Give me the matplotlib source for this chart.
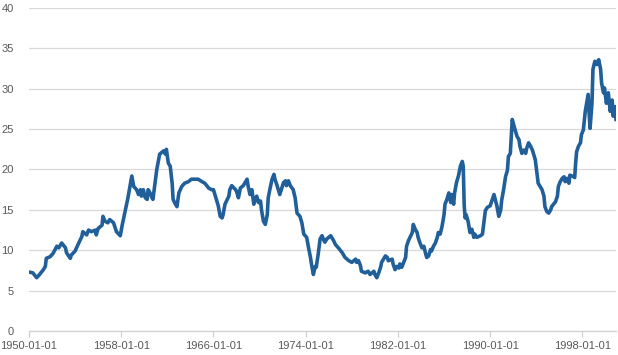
import matplotlib
matplotlib.use("Agg")
import matplotlib.pyplot as plt

# monthly P/E readings
dates = [
    "1950-01", "1950-05", "1950-09", "1950-12", "1951-04", "1951-06", "1951-07", "1951-11",
    "1952-02", "1952-06", "1952-08", "1952-11", "1953-03", "1953-04", "1953-08", "1953-09",
    "1954-01", "1954-04", "1954-08", "1954-09", "1954-11", "1955-01", "1955-03", "1955-06",
    "1955-10", "1955-11", "1956-01", "1956-05", "1956-06", "1956-08", "1956-11", "1957-01",
    "1957-05", "1957-08", "1957-12", "1958-02", "1958-05", "1958-08", "1958-12", "1959-02",
    "1959-05", "1959-07", "1959-09", "1959-10", "1959-12", "1960-02", "1960-04", "1960-05",
    "1960-07", "1960-09", "1960-10", "1960-12", "1961-02", "1961-04", "1961-05", "1961-09",
    "1961-11", "1961-12", "1962-02", "1962-04", "1962-06", "1962-07", "1962-09", "1962-11",
    "1963-01", "1963-04", "1963-07", "1963-11", "1964-02", "1964-06", "1964-09", "1965-01",
    "1965-04", "1965-08", "1965-11", "1966-01", "1966-03", "1966-06", "1966-08", "1966-10",
    "1966-11", "1967-01", "1967-05", "1967-06", "1967-08", "1967-12", "1968-01", "1968-03",
    "1968-05", "1968-08", "1968-12", "1969-01", "1969-03", "1969-05", "1969-07", "1969-10",
    "1969-12", "1970-02", "1970-03", "1970-05", "1970-07", "1970-09", "1970-10", "1970-12",
    "1971-02", "1971-04", "1971-05", "1971-07", "1971-10", "1972-02", "1972-04", "1972-05",
    "1972-07", "1972-09", "1972-12", "1973-02", "1973-04", "1973-07", "1973-09", "1973-11",
    "1974-02", "1974-04", "1974-06", "1974-07", "1974-09", "1974-11", "1974-12", "1975-02",
    "1975-04", "1975-06", "1975-08", "1975-09", "1975-11", "1976-03", "1976-06", "1976-08",
    "1976-11", "1977-03", "1977-06", "1977-10", "1978-01", "1978-05", "1978-06", "1978-08",
    "1978-10", "1978-11", "1979-03", "1979-06", "1979-08", "1979-10", "1979-12", "1980-01",
    "1980-03", "1980-05", "1980-07", "1980-08", "1980-12", "1981-02", "1981-03", "1981-07",
    "1981-08", "1981-10", "1981-12", "1982-02", "1982-03", "1982-05", "1982-07", "1982-09",
    "1982-10", "1982-12", "1983-04", "1983-05", "1983-07", "1983-09", "1983-10", "1983-12",
    "1984-02", "1984-04", "1984-06", "1984-07", "1984-09", "1984-11", "1984-12", "1985-02",
    "1985-04", "1985-06", "1985-07", "1985-09", "1985-11", "1986-01", "1986-02", "1986-04",
    "1986-06", "1986-08", "1986-09", "1986-11", "1986-12", "1987-02", "1987-04", "1987-06",
    "1987-08", "1987-09", "1987-10", "1987-11", "1987-12", "1988-02", "1988-04", "1988-06",
    "1988-08", "1988-09", "1988-11", "1989-03", "1989-05", "1989-06", "1989-08", "1989-10",
    "1990-01", "1990-05", "1990-08", "1990-10", "1990-12", "1991-01", "1991-03", "1991-05",
    "1991-07", "1991-08", "1991-10", "1991-11", "1991-12", "1992-03", "1992-05", "1992-07",
    "1992-08", "1992-10", "1992-12", "1993-02", "1993-03", "1993-05", "1993-07", "1993-09",
    "1993-12", "1994-03", "1994-07", "1994-09", "1994-10", "1994-12", "1995-02", "1995-04",
    "1995-05", "1995-09", "1995-11", "1995-12", "1996-02", "1996-04", "1996-06", "1996-07",
    "1996-09", "1996-11", "1996-12", "1997-04", "1997-05", "1997-06", "1997-07", "1997-09",
    "1997-11", "1997-12", "1998-02", "1998-04", "1998-06", "1998-07", "1998-08", "1998-09",
    "1998-11", "1998-12", "1999-02", "1999-04", "1999-06", "1999-08", "1999-09", "1999-11",
    "1999-12", "2000-02", "2000-04", "2000-06", "2000-08", "2000-09", "2000-11", "2000-12",
]
pe = [
    7.3, 7.2, 6.6, 7.0, 7.6, 8.0, 9.0, 9.2,
    9.6, 10.5, 10.3, 10.9, 10.3, 9.7, 9.0, 9.4,
    9.9, 10.7, 11.7, 12.3, 12.1, 11.9, 12.5, 12.3,
    12.5, 11.9, 12.7, 13.1, 14.2, 13.6, 13.4, 13.8,
    13.4, 12.3, 11.8, 13.1, 14.8, 16.5, 19.2, 17.9,
    17.5, 16.9, 17.5, 16.7, 17.5, 16.5, 16.3, 17.5,
    17.1, 16.5, 16.3, 18.1, 20.0, 21.3, 21.9, 22.3,
    21.9, 22.5, 20.8, 20.4, 18.3, 16.3, 15.8, 15.4,
    17.1, 17.9, 18.3, 18.5, 18.8, 18.8, 18.8, 18.5,
    18.3, 17.7, 17.5, 17.5, 16.7, 15.5, 14.2, 14.0,
    14.4, 15.7, 16.7, 17.5, 18.0, 17.5, 17.3, 16.5,
    17.7, 18.0, 18.8, 18.0, 16.9, 17.5, 15.7, 16.7,
    15.9, 16.1, 15.0, 13.6, 13.2, 14.4, 16.5, 17.7,
    18.8, 19.4, 18.8, 18.1, 16.9, 18.4, 18.6, 18.0,
    18.6, 18.0, 17.5, 16.5, 14.6, 14.2, 13.4, 12.0,
    11.6, 10.3, 9.1, 8.3, 7.0, 8.0, 7.9, 9.5,
    11.4, 11.8, 11.2, 11.0, 11.4, 11.8, 11.2, 10.7,
    10.3, 9.7, 9.1, 8.7, 8.5, 8.9, 8.5, 8.7,
    8.1, 7.4, 7.2, 7.4, 7.0, 7.2, 7.4, 7.0,
    6.6, 7.2, 7.9, 8.5, 9.3, 9.1, 8.7, 8.9,
    8.3, 7.6, 8.0, 7.8, 8.3, 7.9, 8.5, 9.1,
    10.5, 11.2, 12.2, 13.2, 12.6, 12.2, 11.6, 10.9,
    10.3, 10.5, 9.5, 9.1, 9.3, 10.1, 9.9, 10.5,
    10.9, 11.6, 12.2, 12.0, 13.0, 14.4, 15.7, 16.3,
    17.1, 15.9, 16.9, 15.7, 17.1, 18.4, 19.2, 20.4,
    21.0, 20.4, 15.5, 14.0, 14.4, 13.6, 12.2, 12.6,
    11.6, 12.0, 11.6, 11.8, 12.0, 13.0, 14.9, 15.3,
    15.5, 16.9, 15.5, 14.2, 15.0, 16.2, 17.5, 19.1,
    19.9, 21.6, 22.0, 24.0, 26.2, 24.9, 24.1, 23.7,
    22.9, 22.0, 22.4, 22.0, 22.6, 23.3, 22.9, 22.4,
    21.2, 18.3, 17.5, 16.7, 15.4, 14.8, 14.6, 15.0,
    15.4, 16.0, 16.7, 17.9, 18.5, 18.9, 19.1, 18.5,
    18.9, 18.3, 19.3, 19.1, 19.0, 20.8, 22.2, 22.9,
    23.3, 24.3, 24.9, 27.2, 28.6, 29.3, 27.0, 25.1,
    28.2, 32.4, 33.4, 33.0, 33.6, 32.4, 30.7, 29.5,
    30.1, 28.2, 29.5, 27.2, 28.6, 26.6, 27.8, 26.2,
]
tick_labels = ["1950-01-01", "1958-01-01", "1966-01-01", "1974-01-01",
               "1982-01-01", "1990-01-01", "1998-01-01"]
y_ticks = [0, 5, 10, 15, 20, 25, 30, 35, 40]

# month index since 1950-01
months = [(int(d[:4]) - 1950) * 12 + int(d[5:7]) - 1 for d in dates]
tick_pos = [(int(t[:4]) - 1950) * 12 for t in tick_labels]

plt.rcParams["font.family"] = ["Liberation Sans", "DejaVu Sans"]
fig = plt.figure(figsize=(6.18, 3.55), dpi=100)
ax = fig.add_axes([29 / 618, 1 - 331 / 355, 587 / 618, 323 / 355])

ax.plot(months, pe, color="#215f9a", lw=2.6, solid_joinstyle="round", zorder=3)

ax.set_xlim(0, 611)
ax.set_ylim(0, 40)
ax.set_yticks(y_ticks)
ax.set_xticks(tick_pos)
ax.set_xticklabels(tick_labels)
ax.grid(axis="y", color="#d9d9d9", lw=0.9)
ax.set_axisbelow(True)
for s in ("top", "right", "left"):
    ax.spines[s].set_visible(False)
ax.spines["bottom"].set_color("#d0d0d0")
ax.spines["bottom"].set_linewidth(0.9)
ax.tick_params(axis="y", length=0, pad=11, labelsize=8, labelcolor="#595959")
ax.tick_params(axis="x", length=4, width=0.9, color="#d0d0d0", pad=3,
               labelsize=8, labelcolor="#595959")

fig.savefig("out.png", dpi=100)
